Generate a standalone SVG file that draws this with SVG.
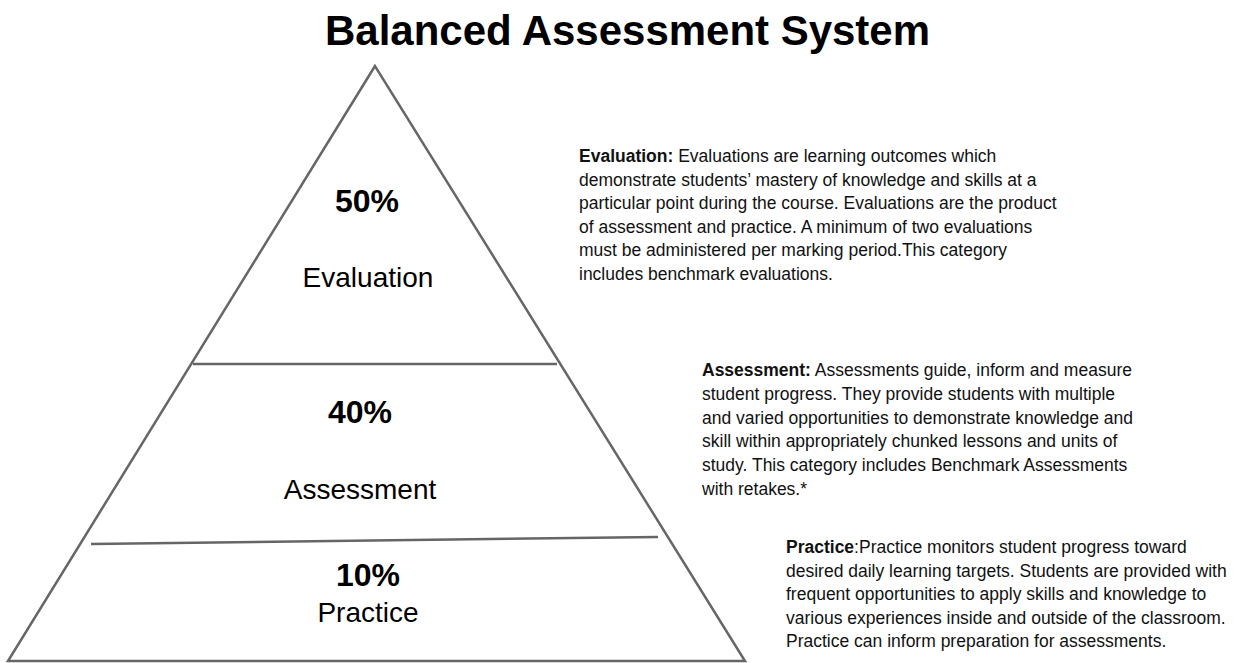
<svg xmlns="http://www.w3.org/2000/svg" width="1236" height="663" viewBox="0 0 1236 663">
  <style>
    .edge { fill: none; stroke: #666666; stroke-width: 2.5; stroke-linejoin: miter; }
    .title { font-family: "Liberation Sans", Arial, sans-serif; font-weight: bold; font-size: 43px; fill: #000; }
    .pct { font-family: "Liberation Sans", Arial, sans-serif; font-weight: bold; font-size: 32px; fill: #000; text-anchor: middle; }
    .tier { font-family: "Liberation Sans", Arial, sans-serif; font-size: 28px; fill: #000; text-anchor: middle; }
    .body { font-family: "Liberation Sans", Arial, sans-serif; font-size: 17.5px; fill: #111; }
    .b { font-weight: bold; }
  </style>
  <rect width="1236" height="663" fill="#ffffff"/>

  <text class="title" x="325" y="45" textLength="605" lengthAdjust="spacingAndGlyphs">Balanced Assessment System</text>

  <!-- pyramid outline and tier dividers -->
  <g id="connectors">
    <polygon class="edge" points="375,66 8,661 745,661"/>
    <line class="edge" x1="193" y1="364" x2="557" y2="364"/>
    <line class="edge" x1="91" y1="544" x2="658" y2="537"/>
  </g>

  <g id="tier-evaluation">
    <text class="pct" x="367" y="212">50%</text>
    <text class="tier" x="368" y="287">Evaluation</text>
  </g>
  <g id="tier-assessment">
    <text class="pct" x="360" y="423">40%</text>
    <text class="tier" x="360" y="499">Assessment</text>
  </g>
  <g id="tier-practice">
    <text class="pct" x="368" y="586">10%</text>
    <text class="tier" x="368" y="622">Practice</text>
  </g>

  <g id="note-evaluation">
    <text class="body" x="579" y="162"><tspan class="b">Evaluation:</tspan> Evaluations are learning outcomes which</text>
    <text class="body" x="579" y="185.6">demonstrate students’ mastery of knowledge and skills at a</text>
    <text class="body" x="579" y="209.2">particular point during the course. Evaluations are the product</text>
    <text class="body" x="579" y="232.8">of assessment and practice. A minimum of two evaluations</text>
    <text class="body" x="579" y="256.4">must be administered per marking period.This category</text>
    <text class="body" x="579" y="280">includes benchmark evaluations.</text>
  </g>

  <g id="note-assessment">
    <text class="body" x="702" y="376"><tspan class="b">Assessment:</tspan> Assessments guide, inform and measure</text>
    <text class="body" x="702" y="399.8">student progress. They provide students with multiple</text>
    <text class="body" x="702" y="423.6">and varied opportunities to demonstrate knowledge and</text>
    <text class="body" x="702" y="447.4">skill within appropriately chunked lessons and units of</text>
    <text class="body" x="702" y="471.2">study. This category includes Benchmark Assessments</text>
    <text class="body" x="702" y="495">with retakes.*</text>
  </g>

  <g id="note-practice">
    <text class="body" x="786" y="553"><tspan class="b">Practice</tspan>:Practice monitors student progress toward</text>
    <text class="body" x="786" y="576.6">desired daily learning targets. Students are provided with</text>
    <text class="body" x="786" y="600.2">frequent opportunities to apply skills and knowledge to</text>
    <text class="body" x="786" y="623.8">various experiences inside and outside of the classroom.</text>
    <text class="body" x="786" y="647.4">Practice can inform preparation for assessments.</text>
  </g>
</svg>
